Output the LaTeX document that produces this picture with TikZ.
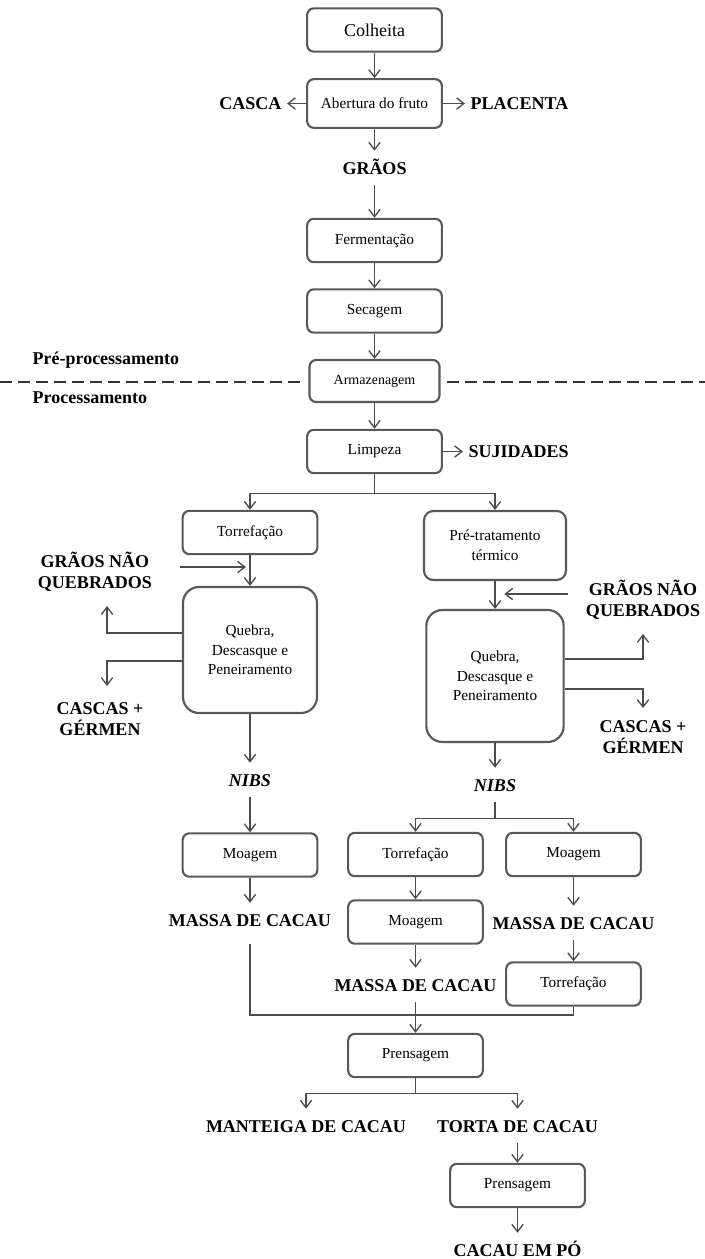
\documentclass[tikz,border=0pt]{standalone}
\usepackage{fontspec}
\setmainfont{Liberation Serif}
\usetikzlibrary{arrows.meta}

\definecolor{boxgray}{gray}{0.35}
\definecolor{linegray}{gray}{0.3}

\begin{document}
\begin{tikzpicture}[x=0.75pt, y=-0.75pt,
	box/.style={draw=boxgray, line width=1.6pt, rounded corners=5pt, fill=white, minimum width=101pt, minimum height=32.5pt, inner sep=1pt, align=center, font=\fontsize{11.5}{14.5}\selectfont},
	bigbox/.style={box, rounded corners=12pt, minimum width=100.5pt, minimum height=94.5pt},
	lbl/.style={font=\fontsize{13.5}{16}\selectfont\bfseries, inner xsep=4pt, inner ysep=8pt, text height=9.5pt, text depth=0pt},
	lbltwo/.style={font=\fontsize{13.5}{16}\selectfont\bfseries, align=center, inner sep=2pt},
	arr/.style={draw=linegray, line width=1pt, -{Straight Barb[length=5.5pt,width=8.5pt]}},
	ln/.style={draw=linegray, line width=1pt},
	divider/.style={draw=black!80, line width=2pt, dash pattern=on 9pt off 4.5pt}]
	\useasboundingbox (0,0) rectangle (705,1259);

	% pre-processing
	\node[box, font=\fontsize{13.5}{16}\selectfont] (colheita) at (374.5,30) {Colheita};
	\node[box, minimum height=36.5pt, font=\fontsize{11.5}{14}\selectfont] (abertura) at (374.5,103.5) {Abertura do fruto};
	\node[lbl, anchor=east] (casca) at (287,103.5) {CASCA};
	\node[lbl, anchor=west] (placenta) at (465,103.5) {PLACENTA};
	\node[lbl] (graos) at (374.5,168) {GRÃOS};
	\node[box] (ferm) at (374.5,240.5) {Fermentação};
	\node[box] (secagem) at (374.5,311) {Secagem};
	\node[box, minimum width=97.5pt, minimum height=31.5pt, font=\fontsize{10.5}{12}\selectfont] (armaz) at (374.5,381) {Armazenagem};
	\node[lbl, anchor=west, inner ysep=2pt] (preproc) at (27,358) {Pré-processamento};
	\node[lbl, anchor=west, inner ysep=2pt] (proc) at (27,397) {Processamento};
	\coordinate (divL) at (0,382);
	\coordinate (divR) at (705,382);
	\draw[divider] (divL) -- ([xshift=-5pt]armaz.west |- divL);
	\draw[divider] ([xshift=5pt]armaz.east |- divR) -- (divR);

	% processing
	\node[box] (limpeza) at (374.5,451.5) {Limpeza};
	\node[lbl, anchor=west] (sujidades) at (463,451.5) {SUJIDADES};
	\node[box] (torrL) at (250,532.5) {Torrefação};
	\node[box, minimum width=106.5pt, minimum height=51.75pt, rounded corners=7pt, font=\fontsize{11.5}{15}\selectfont] (pretrat) at (495,545.5) {Pré-tratamento\\térmico};
	\node[lbltwo] (gnqL) at (95,572) {GRÃOS NÃO\\QUEBRADOS};
	\node[bigbox] (quebraL) at (250,650) {Quebra,\\Descasque e\\Peneiramento};
	\node[lbltwo] (cascasL) at (100,719) {CASCAS +\\GÉRMEN};
	\node[lbl] (nibsL) at (250,780) {\itshape NIBS};
	\node[lbltwo] (gnqR) at (643,600) {GRÃOS NÃO\\QUEBRADOS};
	\node[bigbox, minimum width=103pt, minimum height=99pt] (quebraR) at (495,676) {Quebra,\\Descasque e\\Peneiramento};
	\node[lbltwo] (cascasR) at (643,737) {CASCAS +\\GÉRMEN};
	\node[lbl] (nibsR) at (495,785) {\itshape NIBS};

	\node[box] (moagL) at (250,855) {Moagem};
	\node[box] (torrM) at (415.5,854.5) {Torrefação};
	\node[box] (moagR) at (573.5,854.5) {Moagem};
	\node[lbl] (massaL) at (250,920) {MASSA DE CACAU};
	\node[box] (moagM) at (415.5,922) {Moagem};
	\node[lbl] (massaR) at (573.5,923) {MASSA DE CACAU};
	\node[lbl] (massaM) at (415.5,985) {MASSA DE CACAU};
	\node[box] (torrR) at (573.5,984) {Torrefação};
	\node[box] (prens) at (415.5,1055.5) {Prensagem};
	\node[lbl] (manteiga) at (306,1126) {MANTEIGA DE CACAU};
	\node[lbl] (torta) at (517.5,1126) {TORTA DE CACAU};
	\node[box] (prens2) at (517.5,1185.5) {Prensagem};
	\node[lbl] (cacaupo) at (517.5,1250) {CACAU EM PÓ};

	% main column
	\draw[arr] (colheita) -- (abertura);
	\draw[arr] (abertura) -- (casca);
	\draw[arr] (abertura) -- (placenta);
	\draw[arr] (abertura) -- (graos);
	\draw[arr] (graos) -- (ferm);
	\draw[arr] (ferm) -- (secagem);
	\draw[arr] (secagem) -- (armaz);
	\draw[arr] (armaz) -- (limpeza);
	\draw[arr] (limpeza) -- (sujidades);
	\draw[arr] (limpeza.south) -- ++(0,19) -| (torrL.north);
	\draw[arr] (limpeza.south) -- ++(0,19) -| (pretrat.north);

	% left branch
	\coordinate (inL) at (180,567);
	\coordinate (upL) at (107,606);
	\coordinate (dnL) at (107,686);
	\draw[arr, shorten >=3pt] (inL) -- (inL -| torrL.south);
	\draw[arr] (torrL) -- (quebraL);
	\draw[arr] (quebraL.west) ++(0,-17) -| (upL);
	\draw[arr] (quebraL.west) ++(0,11) -| (dnL);
	\draw[arr] (quebraL) -- (nibsL);
	\draw[arr] (nibsL) -- (moagL);
	\draw[arr] (moagL) -- (massaL);

	% right branch
	\coordinate (inR) at (568,594);
	\coordinate (upR) at (643,634);
	\coordinate (dnR) at (643,708);
	\draw[arr, shorten >=7pt] (inR) -- (inR -| pretrat.south);
	\draw[arr] (pretrat) -- (quebraR);
	\draw[arr] (quebraR.east) ++(0,-17) -| (upR);
	\draw[arr] (quebraR.east) ++(0,13) -| (dnR);
	\draw[arr] (quebraR) -- (nibsR);
	\draw[arr] (nibsR.south) -- ++(0,16) -| (torrM.north);
	\draw[arr] (nibsR.south) -- ++(0,16) -| (moagR.north);
	\draw[arr] (torrM) -- (moagM);
	\draw[arr] (moagM) -- (massaM);
	\draw[arr] (moagR) -- (massaR);
	\draw[arr] (massaR) -- (torrR);

	% pressing
	\coordinate (jn) at (415.5,1015);
	\draw[ln, shorten <=5pt] (massaL.south) |- (jn) -| (torrR.south);
	\draw[arr] (massaM) -- (prens);
	\draw[arr] (prens.south) -- ++(0,15) -| (manteiga.north);
	\draw[arr] (prens.south) -- ++(0,15) -| (torta.north);
	\draw[arr] (torta) -- (prens2);
	\draw[arr] (prens2) -- (cacaupo);
\end{tikzpicture}
\end{document}
